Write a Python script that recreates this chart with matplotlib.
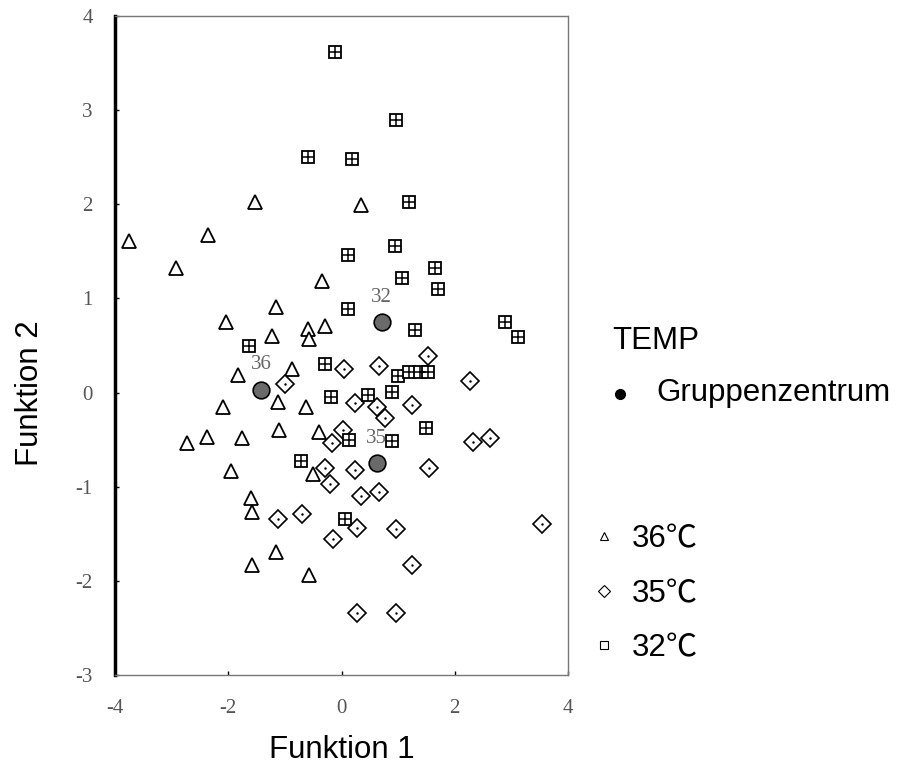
import matplotlib
matplotlib.use("Agg")
import matplotlib.pyplot as plt
from matplotlib.lines import Line2D

# ---- data ----
t36_x = [-1.52, 0.35, -3.75, -2.35, -2.92, -0.35, -1.15, -2.04, -1.22, -0.60, -0.58, -0.30,
         -1.83, -0.88, -2.10, -1.13, -0.62, -1.10, -2.73, -2.37, -1.75, -0.39, -1.95, -1.60,
         -1.58, -1.15, -1.58, -0.57, -0.51]
t36_y = [2.02, 1.99, 1.61, 1.67, 1.32, 1.19, 0.91, 0.75, 0.60, 0.68, 0.57, 0.71,
         0.19, 0.25, -0.15, -0.10, -0.15, -0.40, -0.54, -0.47, -0.48, -0.42, -0.83, -1.12,
         -1.27, -1.69, -1.83, -1.94, -0.86]

t35_x = [-1.00, 0.05, 0.67, 1.52, 2.27, 0.23, 0.62, 0.76, 1.24, 0.02, -0.16, 1.55, 0.23,
         -0.30, -0.21, 2.32, 2.62, 0.35, 0.67, 0.27, -0.15, 0.97, 1.24, 0.27, 0.97, 3.54,
         -1.13, -0.69]
t35_y = [0.09, 0.25, 0.28, 0.39, 0.12, -0.11, -0.15, -0.27, -0.13, -0.40, -0.54, -0.80, -0.82,
         -0.80, -0.97, -0.53, -0.48, -1.10, -1.06, -1.44, -1.56, -1.45, -1.83, -2.34, -2.34, -1.40,
         -1.34, -1.29]

t32_x = [-0.12, 0.97, -0.60, 0.18, 1.19, 0.94, 0.11, 1.06, 1.66, 1.70, 0.11, 1.29, 2.88,
         3.12, -1.63, -0.30, -0.18, 0.99, 1.20, 1.38, 1.52, 0.90, 0.46, 1.50, 0.90, 0.14,
         -0.71, 0.07]
t32_y = [3.62, 2.89, 2.50, 2.48, 2.02, 1.56, 1.46, 1.22, 1.32, 1.10, 0.89, 0.66, 0.75,
         0.59, 0.49, 0.30, -0.05, 0.18, 0.22, 0.22, 0.22, 0.01, -0.03, -0.38, -0.51, -0.50,
         -0.73, -1.34]

centroid_labels = ["36", "35", "32"]
centroid_x = [-1.42, 0.62, 0.71]
centroid_y = [0.03, -0.75, 0.75]

x_ticks = [-4, -2, 0, 2, 4]
y_ticks = [-3, -2, -1, 0, 1, 2, 3, 4]
legend_labels = ["36\u2103", "35\u2103", "32\u2103"]

# ---- figure ----
W, H = 901, 778
fig = plt.figure(figsize=(W / 100, H / 100), dpi=100)
ax = fig.add_axes([115 / W, 1 - 675 / H, 453 / W, 659 / H])

ax.set_xlim(-4, 4)
ax.set_ylim(-3.0, 4.0)

ms = 10
# 36: open triangles
ax.plot(t36_x, t36_y, ls="none", marker="^", ms=ms, mfc="white", mec="black", mew=1.3)
# 35: open diamonds with a centre dot
ax.plot(t35_x, t35_y, ls="none", marker="D", ms=ms - 1, mfc="white", mec="black", mew=1.2)
ax.plot(t35_x, t35_y, ls="none", marker=".", ms=1.5, color="black")
# 32: squares with a cross
ax.plot(t32_x, t32_y, ls="none", marker="s", ms=ms - 1, mfc="white", mec="black", mew=1.3)
ax.plot(t32_x, t32_y, ls="none", marker="+", ms=ms - 1, mec="black", mew=1.1)
# group centroids
ax.plot(centroid_x, centroid_y, ls="none", marker="o", ms=12, mfc="#6a6a6a", mec="black", mew=1.2)
for lab, cx, cy in zip(centroid_labels, centroid_x, centroid_y):
    ax.annotate(lab, (cx, cy), xytext=(0, 11), textcoords="offset points",
                ha="center", va="bottom", fontsize=15, family="Liberation Serif",
                color="#666666")

ax.set_xticks(x_ticks)
ax.set_yticks(y_ticks)
ax.set_xticklabels([str(v) for v in x_ticks], family="Liberation Serif", fontsize=15, color="#555555")
ax.set_yticklabels([str(v) for v in y_ticks], family="Liberation Serif", fontsize=15, color="#555555")
ax.tick_params(axis="y", length=3, width=1, direction="in", pad=16, color="black")
ax.tick_params(axis="x", length=3, width=1, direction="in", pad=17, color="black")

for side in ["top", "right", "bottom"]:
    ax.spines[side].set_linewidth(1.0)
    ax.spines[side].set_color("#777777")
    ax.spines[side].set_linestyle((0, (2, 1)))
ax.spines["left"].set_linewidth(2.5)
ax.spines["left"].set_color("black")

sans = ["Liberation Sans", "DejaVu Sans"]
fs = 22.5
fig.text(342 / W, 1 - 750 / H, "Funktion 1", ha="center", va="center", fontsize=fs, family=sans)
fig.text(30 / W, 1 - 393 / H, "Funktion 2", ha="center", va="center", rotation=90,
         fontsize=fs, family=sans)

# ---- legend on the right ----
fig.text(612 / W, 1 - 341 / H, "TEMP", ha="left", va="center", fontsize=fs, family=sans)
fig.add_artist(Line2D([620 / W], [1 - 394 / H], transform=fig.transFigure, ls="none",
                      marker="o", ms=7, color="black"))
fig.text(656 / W, 1 - 393 / H, "Gruppenzentrum", ha="left", va="center", fontsize=fs, family=sans)

leg_markers = ["^", "D", "s"]
leg_y = [539, 594, 648]
for lab, mk, yy in zip(legend_labels, leg_markers, leg_y):
    fig.add_artist(Line2D([604 / W], [1 - (yy - 3) / H], transform=fig.transFigure, ls="none",
                          marker=mk, ms=6, mfc="white", mec="black", mew=0.8))
    fig.text(632 / W, 1 - yy / H, lab, ha="left", va="center", fontsize=fs,
             family=["Liberation Sans", "Noto Sans CJK SC", "DejaVu Sans"])

fig.savefig("out.png", dpi=100)
